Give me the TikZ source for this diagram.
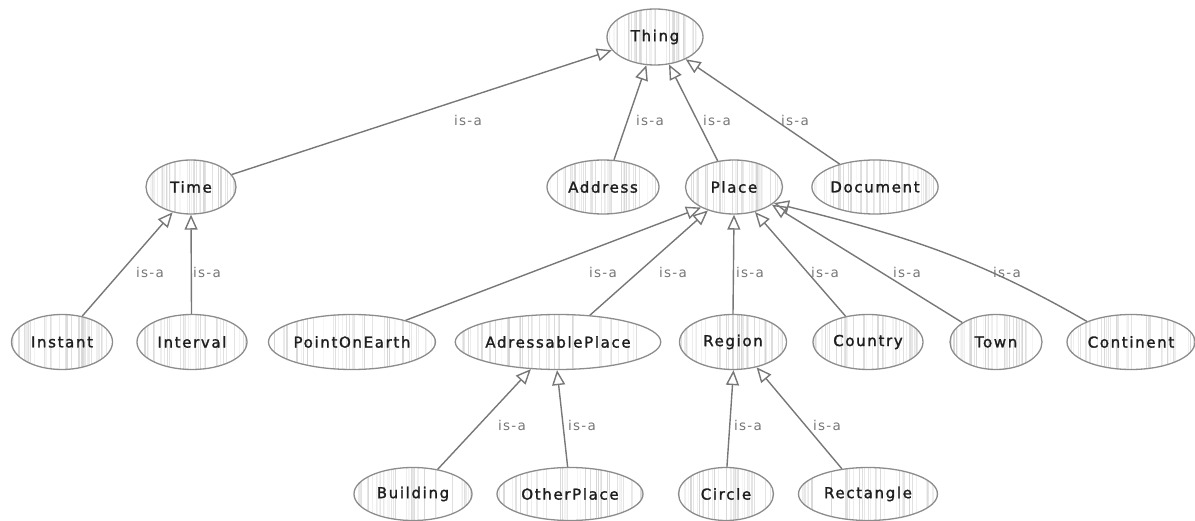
\documentclass[tikz,border=0pt]{standalone}
\usepackage{fontspec}
\usetikzlibrary{shapes.geometric,arrows.meta,calc}
\newfontfamily\nodefam[LetterSpace=11,FakeBold=1.6]{DejaVu Sans}
\newfontfamily\labfam[LetterSpace=10]{DejaVu Sans}
\definecolor{edgec}{HTML}{777777}
\definecolor{borderc}{HTML}{8C8C8C}
\definecolor{textc}{HTML}{1E1E1E}
\definecolor{labc}{HTML}{767676}
\newcommand\mystripes{%
  \foreach \k in {1,...,40}{%
    \pgfmathsetmacro\sx{rnd}%
    \pgfmathsetmacro\sg{3+13*rnd}%
    \pgfmathsetmacro\sw{0.4+1.2*rnd}%
    \draw[black!\sg, line width=\sw pt]
      ($(path picture bounding box.south west)!\sx!(path picture bounding box.south east)$) --
      ($(path picture bounding box.north west)!\sx!(path picture bounding box.north east)$);
  }%
}
\tikzset{
  cls/.style={ellipse, draw=borderc, line width=1.3pt, inner sep=0pt, text=textc,
    font=\nodefam\fontsize{15}{17}\selectfont, path picture={\mystripes}},
  lab/.style={text=labc, inner sep=0pt, font=\labfam\fontsize{13.5}{15}\selectfont},
  isa/.style={draw=edgec, line width=1.4pt, -{Triangle[open, length=15pt, width=13pt]}},
}
\begin{document}
\begin{tikzpicture}[x=1pt,y=-1pt]
\pgfmathsetseed{4711}
\useasboundingbox (0,0) rectangle (1195,521);
% level 0
\node[cls, minimum width=96pt, minimum height=56pt] (thing) at (655,37) {Thing};
% level 1
\node[cls, minimum width=90pt, minimum height=54pt] (time) at (191,187) {Time};
\node[cls, minimum width=112pt, minimum height=54pt] (address) at (603,187) {Address};
\node[cls, minimum width=97pt, minimum height=54pt] (place) at (734,187) {Place};
\node[cls, minimum width=124pt, minimum height=54pt] (document) at (875,187) {Document};
% level 2
\node[cls, minimum width=101pt, minimum height=55pt] (instant) at (62,342) {Instant};
\node[cls, minimum width=110pt, minimum height=55pt] (interval) at (192,342) {Interval};
\node[cls, minimum width=167pt, minimum height=55pt] (point) at (352,342) {PointOnEarth};
\node[cls, minimum width=194pt, minimum height=55pt] (adress) at (558,342) {AdressablePlace};
\node[cls, minimum width=107pt, minimum height=55pt] (region) at (733,342) {Region};
\node[cls, minimum width=110pt, minimum height=55pt] (country) at (868,342) {Country};
\node[cls, minimum width=92pt, minimum height=55pt] (town) at (996,342) {Town};
\node[cls, minimum width=128pt, minimum height=55pt] (continent) at (1131,342) {Continent};
% level 3
\node[cls, minimum width=118pt, minimum height=53pt] (building) at (413,494) {Building};
\node[cls, minimum width=146pt, minimum height=53pt] (other) at (570,494) {OtherPlace};
\node[cls, minimum width=95pt, minimum height=53pt] (circle) at (726,494) {Circle};
\node[cls, minimum width=139pt, minimum height=53pt] (rect) at (868,494) {Rectangle};
% edges to Thing
\draw[isa] (time.17) -- (thing.197);
\draw[isa] (address.68) -- (thing.253);
\draw[isa] (place.122) -- (thing.297);
\draw[isa] (document.147) -- (thing.324);
% edges to Time
\draw[isa] (instant.52) -- (time.234);
\draw[isa] (interval.91) -- (time.270);
% edges to Place
\draw[isa] (point.22) -- (place.212);
\draw[isa] (adress.40) -- (place.222);
\draw[isa] (region.90) -- (place.270);
\draw[isa] (country.131) -- (place.310);
\draw[isa] (town.150) -- (place.335);
\draw[isa] (continent.155) to[out=150, in=-14] (place.338);
% edges to AdressablePlace
\draw[isa] (building.45) -- (adress.225);
\draw[isa] (other.95) -- (adress.268);
% edges to Region
\draw[isa] (circle.88) -- (region.271);
\draw[isa] (rect.136) -- (region.313);
% labels
\node[lab] (l1) at (468,120) {is-a};
\node[lab] (l2) at (650,120) {is-a};
\node[lab] (l3) at (717,120) {is-a};
\node[lab] (l4) at (795,120) {is-a};
\node[lab] (l5) at (150,272) {is-a};
\node[lab] (l6) at (207,272) {is-a};
\node[lab] (l7) at (603,272) {is-a};
\node[lab] (l8) at (673,272) {is-a};
\node[lab] (l9) at (750,272) {is-a};
\node[lab] (l10) at (825,272) {is-a};
\node[lab] (l11) at (907,272) {is-a};
\node[lab] (l12) at (1007,272) {is-a};
\node[lab] (l13) at (512,425) {is-a};
\node[lab] (l14) at (582,425) {is-a};
\node[lab] (l15) at (748,425) {is-a};
\node[lab] (l16) at (827,425) {is-a};
\end{tikzpicture}
\end{document}
